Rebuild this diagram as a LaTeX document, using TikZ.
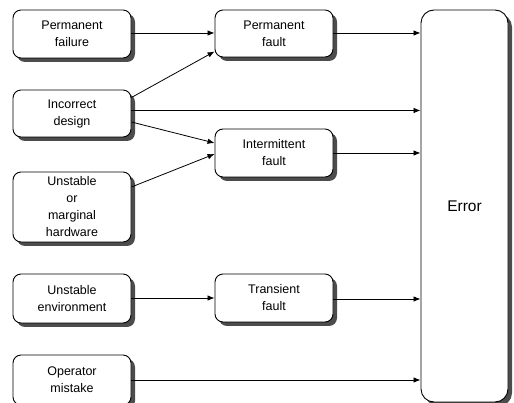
\documentclass[tikz,border=0pt]{standalone}
\usepackage{fontspec}
\setmainfont{Liberation Sans}
\usetikzlibrary{shadows,arrows.meta}
\begin{document}
\begin{tikzpicture}[x=1pt,y=-1pt,
  box/.style={draw=black, line width=0.9pt, fill=white, rounded corners=8pt,
    minimum width=118pt, inner sep=0pt, align=center,
    font=\fontsize{12.5}{17}\selectfont,
    drop shadow={shadow xshift=4pt, shadow yshift=-4pt, fill=black!70, opacity=1}},
  bigbox/.style={box, rounded corners=13pt, minimum width=87pt, font=\fontsize{15.5}{18}\selectfont},
  arr/.style={draw=black, line width=0.8pt, -{Latex[length=7pt,width=5.5pt]}}]
\useasboundingbox (0,0) rectangle (514,403);
% left column
\node[box, minimum height=48pt] (PF) at (72,34) {Permanent\\failure};
\node[box, minimum height=47pt] (ID) at (72,113.5) {Incorrect\\design};
\node[box, minimum height=70pt] (UH) at (72,207) {Unstable\\or\\marginal\\hardware};
\node[box, minimum height=49pt] (UE) at (72,298.5) {Unstable\\environment};
\node[box, minimum height=50pt] (OM) at (72,380) {Operator\\mistake};
% middle column
\node[box, minimum height=47pt] (PFa) at (274,33.5) {Permanent\\fault};
\node[box, minimum height=48pt] (IF) at (274,153) {Intermittent\\fault};
\node[box, minimum height=48pt] (TF) at (274,298) {Transient\\fault};
% error
\node[bigbox, minimum height=392pt] (E) at (464.5,206) {Error};
% connectors
\coordinate (idtop) at ([yshift=16pt]ID.east);
\coordinate (idbot) at ([yshift=-8.5pt]ID.east);
\draw[arr] (PF.east |- 0,33) -- (PFa.west |- 0,33);
\draw[arr] (idtop) -- ([yshift=-18pt]PFa.west);
\draw[arr] ([yshift=3pt]ID.east) -- ([yshift=3pt]ID.east -| E.west);
\draw[arr] (idbot) -- ([yshift=10pt]IF.west);
\draw[arr] ([yshift=20pt]UH.east) -- ([yshift=-1pt]IF.west);
\draw[arr] (PFa.east |- 0,33) -- (E.west |- 0,33);
\draw[arr] (IF.east) -- (E.west |- IF.east);
\draw[arr] (UE.east |- 0,298) -- (TF.west |- 0,298);
\draw[arr] (TF.east |- 0,299) -- (E.west |- 0,299);
\draw[arr] (OM.east |- 0,380) -- (E.west |- 0,380);
\end{tikzpicture}
\end{document}
